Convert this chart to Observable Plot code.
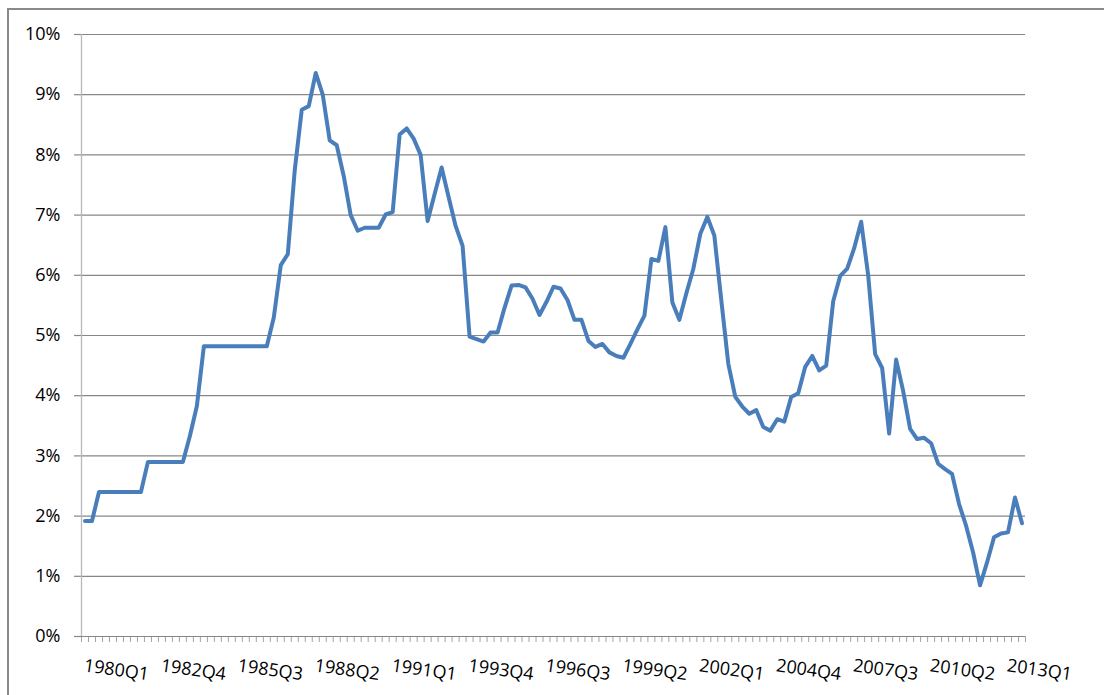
<!DOCTYPE html>
<html>
<head>
<meta charset="utf-8">
<script src="https://cdn.jsdelivr.net/npm/d3@7"></script>
<script src="https://cdn.jsdelivr.net/npm/@observablehq/plot@0.6"></script>
<style>
  body { margin: 0; background: #fff; overflow: hidden; }
  #wrap { position: relative; width: 1104px; height: 695px; overflow: hidden; }
  #frame { position: absolute; left: 7px; top: 8px; width: 1300px; height: 900px;
           border-left: 2px solid #8a8a8a; border-top: 2px solid #8a8a8a; }
  #chart { position: absolute; left: 0; top: 0; }
</style>
</head>
<body>
<div id="wrap"><div id="frame"></div><div id="chart"></div></div>
<script>
// Quarterly categories, 1980Q1 through 2013Q3
const quarters = [];
for (let year = 1980; year <= 2013; year++) {
  for (let q = 1; q <= 4; q++) {
    if (year === 2013 && q > 3) break;
    quarters.push(`${year}Q${q}`);
  }
}

// Rate per quarter, in percent
const rates = [
  1.92, 1.92, 2.40, 2.40, 2.40, 2.40, 2.40, 2.40, 2.40, 2.90,
  2.90, 2.90, 2.90, 2.90, 2.90, 3.33, 3.83, 4.82, 4.82, 4.82,
  4.82, 4.82, 4.82, 4.82, 4.82, 4.82, 4.82, 5.30, 6.17, 6.35,
  7.75, 8.75, 8.81, 9.36, 9.00, 8.24, 8.16, 7.65, 7.00, 6.74,
  6.79, 6.79, 6.79, 7.01, 7.05, 8.34, 8.44, 8.27, 8.00, 6.90,
  7.35, 7.79, 7.30, 6.82, 6.49, 4.98, 4.94, 4.90, 5.05, 5.05,
  5.46, 5.83, 5.84, 5.80, 5.61, 5.34, 5.56, 5.81, 5.78, 5.59,
  5.26, 5.26, 4.91, 4.81, 4.86, 4.72, 4.66, 4.63, 4.86, 5.10,
  5.33, 6.27, 6.24, 6.80, 5.55, 5.26, 5.70, 6.11, 6.69, 6.97,
  6.66, 5.58, 4.53, 3.98, 3.82, 3.70, 3.76, 3.48, 3.42, 3.61,
  3.57, 3.98, 4.04, 4.48, 4.66, 4.42, 4.50, 5.57, 5.99, 6.11,
  6.45, 6.89, 6.00, 4.69, 4.46, 3.37, 4.60, 4.08, 3.45, 3.28,
  3.30, 3.21, 2.87, 2.78, 2.70, 2.20, 1.84, 1.40, 0.85, 1.23,
  1.65, 1.71, 1.73, 2.31, 1.88
];

// Labelled categories on the horizontal axis
const labelledQuarters = [
  "1980Q1", "1982Q4", "1985Q3", "1988Q2", "1991Q1", "1993Q4", "1996Q3",
  "1999Q2", "2002Q1", "2004Q4", "2007Q3", "2010Q2", "2013Q1"
];

// Percent ticks on the vertical axis
const yTicks = [0, 1, 2, 3, 4, 5, 6, 7, 8, 9, 10];

const series = quarters.map((quarter, i) => ({ i, quarter, rate: rates[i] }));
const labelIndex = labelledQuarters.map(q => quarters.indexOf(q));
const boundaries = d3.range(quarters.length + 1).map(k => k - 0.5);

const gridColor = "#878787";
const font = "'Open Sans', sans-serif";

const chart = Plot.plot({
  width: 1104,
  height: 695,
  marginLeft: 81,
  marginRight: 79,
  marginTop: 34,
  marginBottom: 59,
  style: { fontFamily: font, fontSize: "18px", color: "#000", background: "transparent", overflow: "visible" },
  x: { domain: [-0.5, quarters.length - 0.5] },
  y: { domain: [0, 10] },
  marks: [
    Plot.gridY(yTicks.filter(t => t > 0), { stroke: gridColor, strokeOpacity: 1, strokeWidth: 1.2 }),
    Plot.axisY(yTicks, {
      tickSize: 7, tickPadding: 14, tickFormat: d => `${d}%`,
      stroke: gridColor, strokeWidth: 1.2, label: null, fontSize: 18
    }),
    // category tick marks along the baseline
    Plot.axisX(boundaries, {
      tickSize: 6, tickFormat: () => "", stroke: "#a3a3a3", label: null
    }),
    // slanted quarter labels
    Plot.axisX(labelIndex, {
      tickSize: 0, tickPadding: 22, tickRotate: 8, textAnchor: "start",
      tickFormat: i => quarters[i], label: null, fontSize: 18
    }),
    Plot.ruleX([-0.5], { stroke: "#b8b8b8", strokeWidth: 1.3 }),
    Plot.ruleY([0], { stroke: gridColor, strokeWidth: 1.2 }),
    Plot.lineY(series, {
      x: "i", y: "rate", stroke: "#4a7ebb", strokeWidth: 4,
      strokeLinejoin: "round", strokeLinecap: "round"
    })
  ]
});

document.getElementById("chart").append(chart);
</script>
</body>
</html>
